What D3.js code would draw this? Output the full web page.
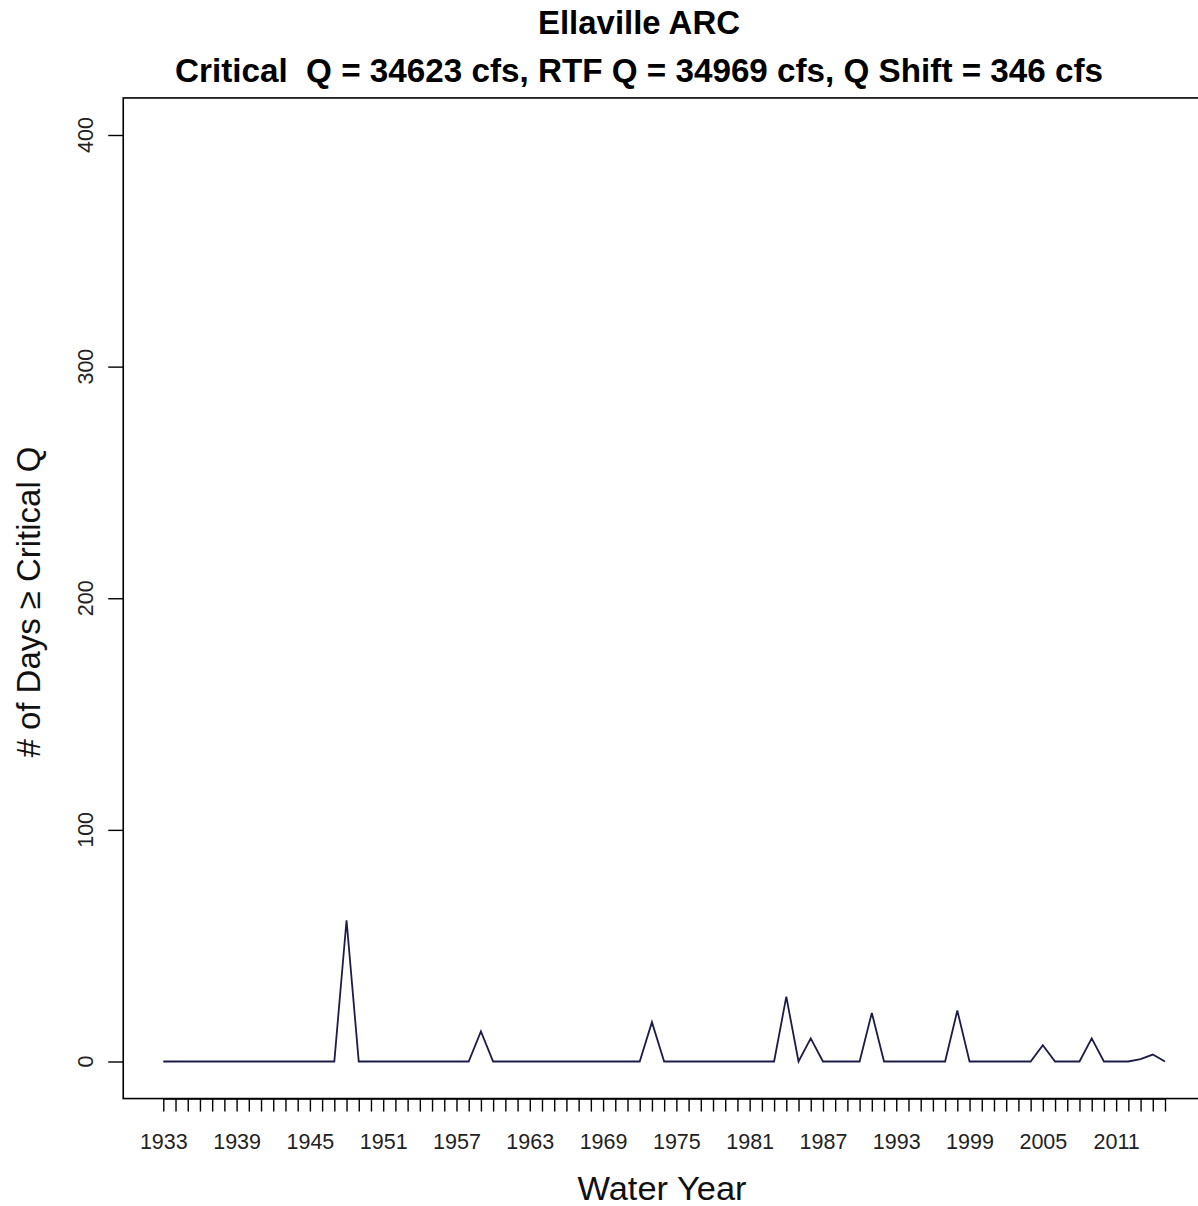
<!DOCTYPE html>
<html>
<head>
<meta charset="utf-8">
<script src="https://cdn.jsdelivr.net/npm/d3@7"></script>
<style>
  body { margin: 0; background: #fff; }
  svg { display: block; }
</style>
</head>
<body>
<svg id="chart"></svg>
<script>
// jshint esversion : 6
const years = d3.range(1933, 2016);

// days per water year with flow >= critical Q
const days = [
  0, 0, 0, 0, 0, 0, 0,
  0, 0, 0, 0, 0, 0, 0, 0, 61, 0,
  0, 0, 0, 0, 0, 0, 0, 0, 0, 13,
  0, 0, 0, 0, 0, 0, 0, 0, 0, 0,
  0, 0, 0, 17, 0, 0, 0, 0, 0, 0,
  0, 0, 0, 0, 28, 0, 10, 0, 0, 0,
  0, 21, 0, 0, 0, 0, 0, 0, 22, 0,
  0, 0, 0, 0, 0, 7, 0, 0, 0, 10,
  0, 0, 0, 1, 3, 0
];

const yearLabels = [1933, 1939, 1945, 1951, 1957, 1963, 1969, 1975, 1981, 1987, 1993, 1999, 2005, 2011];
const yTicks = [0, 100, 200, 300, 400];

const titleLines = [
  'Ellaville ARC',
  'Critical  Q = 34623 cfs, RTF Q = 34969 cfs, Q Shift = 346 cfs'
];

function drawChart(width, height) {
  let svg = d3
    .select('#chart')
    .attr('width', width)
    .attr('height', height);

  let x = d3.scaleLinear().domain([1933, 2015]).range([163.3, 1165]),
    y = d3.scaleLinear().domain([0, 400]).range([1061.5, 135]);

  // R style box: data range padded by 4%
  let xPad = (2015 - 1933) * 0.04,
    boxLeft = x(1933 - xPad),
    boxRight = x(2015 + xPad),
    boxTop = y(416),
    boxBottom = y(-16);

  svg
    .append('rect')
    .attr('x', boxLeft)
    .attr('y', boxTop)
    .attr('width', boxRight - boxLeft)
    .attr('height', boxBottom - boxTop)
    .attr('fill', 'none')
    .attr('stroke', '#000')
    .attr('stroke-width', 1.6);

  // x axis: a tick every year, a label every 6th
  let xAxis = svg
    .append('g')
    .attr('transform', 'translate(0,' + boxBottom + ')')
    .call(
      d3
        .axisBottom(x)
        .tickValues(years)
        .tickSize(13)
        .tickSizeOuter(0)
        .tickFormat(d => (yearLabels.includes(d) ? d : ''))
    );
  xAxis.select('.domain').attr('stroke-width', 1.6);
  xAxis.selectAll('.tick line').attr('stroke', '#000').attr('stroke-width', 1.4);
  xAxis
    .selectAll('.tick text')
    .attr('y', 50)
    .attr('dy', 0)
    .attr('font-family', 'Liberation Sans, Arial, sans-serif')
    .attr('font-size', 21.5)
    .attr('fill', '#222');

  // y axis with rotated labels
  let yAxis = svg
    .append('g')
    .attr('transform', 'translate(' + boxLeft + ',0)')
    .call(d3.axisLeft(y).tickValues(yTicks).tickSize(15).tickFormat(''));
  yAxis.select('.domain').remove();
  yAxis.selectAll('.tick line').attr('stroke', '#000').attr('stroke-width', 1.4);

  svg
    .append('g')
    .selectAll('text')
    .data(yTicks)
    .enter()
    .append('text')
    .attr('transform', d => 'translate(93,' + y(d) + ') rotate(-90)')
    .attr('text-anchor', 'middle')
    .attr('font-family', 'Liberation Sans, Arial, sans-serif')
    .attr('font-size', 21.5)
    .attr('fill', '#222')
    .text(d => d);

  // series line
  let line = d3
    .line()
    .x((d, i) => x(years[i]))
    .y(d => y(d));

  svg
    .append('path')
    .datum(days)
    .attr('d', line)
    .attr('fill', 'none')
    .attr('stroke', '#1c1c48')
    .attr('stroke-width', 1.8)
    .attr('stroke-linejoin', 'miter');

  // titles
  svg
    .append('text')
    .attr('x', 639)
    .attr('y', 34)
    .attr('text-anchor', 'middle')
    .attr('font-family', 'Liberation Sans Narrow, Liberation Sans, sans-serif')
    .attr('font-weight', 'bold')
    .attr('font-size', 33)
    .attr('textLength', 202)
    .attr('lengthAdjust', 'spacingAndGlyphs')
    .text(titleLines[0]);

  svg
    .append('text')
    .attr('x', 639)
    .attr('y', 82)
    .attr('text-anchor', 'middle')
    .attr('font-family', 'Liberation Sans Narrow, Liberation Sans, sans-serif')
    .attr('font-weight', 'bold')
    .attr('font-size', 33)
    .attr('textLength', 928)
    .attr('lengthAdjust', 'spacingAndGlyphs')
    .attr('xml:space', 'preserve')
    .text(titleLines[1]);

  svg
    .append('text')
    .attr('x', 662)
    .attr('y', 1200)
    .attr('text-anchor', 'middle')
    .attr('font-family', 'Liberation Sans, Arial, sans-serif')
    .attr('font-size', 33)
    .attr('textLength', 169)
    .attr('lengthAdjust', 'spacingAndGlyphs')
    .attr('fill', '#111')
    .text('Water Year');

  svg
    .append('text')
    .attr('transform', 'translate(40,602) rotate(-90)')
    .attr('text-anchor', 'middle')
    .attr('font-family', 'Liberation Sans, Arial, sans-serif')
    .attr('font-size', 33)
    .attr('textLength', 311)
    .attr('lengthAdjust', 'spacingAndGlyphs')
    .attr('fill', '#111')
    .text('# of Days \u2265 Critical Q');
}

drawChart(1198, 1206);
</script>
</body>
</html>
